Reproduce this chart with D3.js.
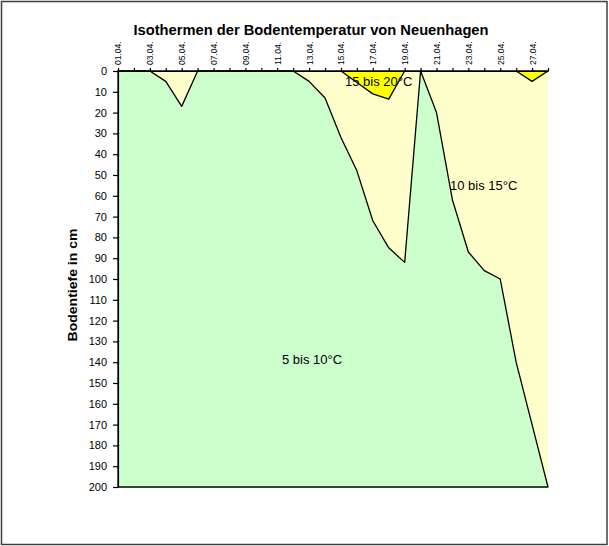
<!DOCTYPE html>
<html lang="de">
<head>
  <meta charset="UTF-8">
  <script src="https://d3js.org/d3.v7.min.js"></script>
  <title>Isothermen</title>
  <style>
    body { margin: 0; background: #fff; }
    text { font-family: "Liberation Sans", Arial, sans-serif; }
  </style>
</head>
<body>
  <svg id="chart" width="609" height="546"></svg>
  <script>
    // Tage (Kategorien), Tiefe der Isothermen in cm
    const days = d3.range(1, 29).map(d => String(d).padStart(2, "0") + ".04.");
    const iso15 = [0, 0, 0, 0, 0, 0, 0, 0, 0, 0, 0, 0, 0, 0, 0, 5.5, 11, 13.5, 0, 0, 0, 0, 0, 0, 0, 0, 5, 0];
    const iso10 = [0, 0, 0, 5, 17, 0, 0, 0, 0, 0, 0, 0, 5, 13, 32, 48, 72, 85, 92, 0, 20, 62, 87, 96, 100, 140, 170, 200];
    const depthTicks = d3.range(0, 201, 10);
    const labels = [
      { text: "15 bis 20°C", x: 345, y: 86 },
      { text: "10 bis 15°C", x: 450, y: 190 },
      { text: "5 bis 10°C", x: 282, y: 364 }
    ];

    const svg = d3.select("#chart");
    const plotL = 118, plotR = 548, plotT = 71, plotB = 487;

    const x = d3.scalePoint().domain(days).range([plotL, plotR]);
    const y = d3.scaleLinear().domain([0, 200]).range([plotT, plotB]);

    // Rahmen
    svg.append("rect")
      .attr("x", 1.5).attr("y", 1.5)
      .attr("width", 605.5).attr("height", 543)
      .attr("fill", "#fff")
      .attr("stroke", "#404040")
      .attr("stroke-width", 1.5);

    const rows = days.map((d, i) => ({ day: d, a: iso15[i], b: iso10[i] }));

    // 10 bis 15 (zwischen den Isothermen)
    svg.append("path")
      .datum(rows)
      .attr("fill", "#FFFFCC")
      .attr("d", d3.area().x(d => x(d.day)).y0(d => y(d.a)).y1(d => y(d.b)));

    // 5 bis 10 (unterhalb der 10°C-Isotherme)
    svg.append("path")
      .datum(rows)
      .attr("fill", "#CCFFCC")
      .attr("stroke", "#000")
      .attr("stroke-width", 1.3)
      .attr("stroke-linejoin", "round")
      .attr("d", d3.area().x(d => x(d.day)).y0(d => y(d.b)).y1(y(200)));

    // 15 bis 20 (oberhalb der 15°C-Isotherme)
    svg.append("path")
      .datum(rows)
      .attr("fill", "#FFFF00")
      .attr("stroke", "#000")
      .attr("stroke-width", 1.3)
      .attr("stroke-linejoin", "round")
      .attr("d", d3.area().x(d => x(d.day)).y0(y(0)).y1(d => y(d.a)));

    // Achsen
    const xAxis = svg.append("g")
      .attr("transform", `translate(0,${plotT})`)
      .call(d3.axisTop(x).tickSize(3).tickSizeOuter(0).tickFormat((d, i) => i % 2 === 0 ? d : ""));
    xAxis.selectAll("text")
      .attr("transform", "rotate(-90)")
      .attr("text-anchor", "start")
      .attr("x", 6)
      .attr("y", 0)
      .attr("dy", "0.35em")
      .attr("font-size", 8.5)
      .attr("fill", "#000");

    const yAxis = svg.append("g")
      .attr("transform", `translate(${plotL},0)`)
      .call(d3.axisLeft(y).tickValues(depthTicks).tickSize(5).tickSizeOuter(0));
    yAxis.selectAll("text")
      .attr("x", -11)
      .attr("font-size", 11)
      .attr("fill", "#000");

    svg.selectAll(".domain, .tick line").attr("stroke", "#000").attr("stroke-width", 1.2);

    // Beschriftungen
    svg.selectAll(".region")
      .data(labels)
      .join("text")
      .attr("class", "region")
      .attr("x", d => d.x)
      .attr("y", d => d.y)
      .attr("font-size", 13)
      .text(d => d.text);

    svg.append("text")
      .attr("x", 311).attr("y", 35)
      .attr("text-anchor", "middle")
      .attr("font-size", 14)
      .attr("font-weight", "bold")
      .attr("textLength", 355)
      .attr("lengthAdjust", "spacingAndGlyphs")
      .text("Isothermen der Bodentemperatur von Neuenhagen");

    svg.append("text")
      .attr("transform", "translate(77,285) rotate(-90)")
      .attr("text-anchor", "middle")
      .attr("font-size", 13)
      .attr("font-weight", "bold")
      .attr("textLength", 113)
      .attr("lengthAdjust", "spacingAndGlyphs")
      .text("Bodentiefe in cm");
  </script>
</body>
</html>
